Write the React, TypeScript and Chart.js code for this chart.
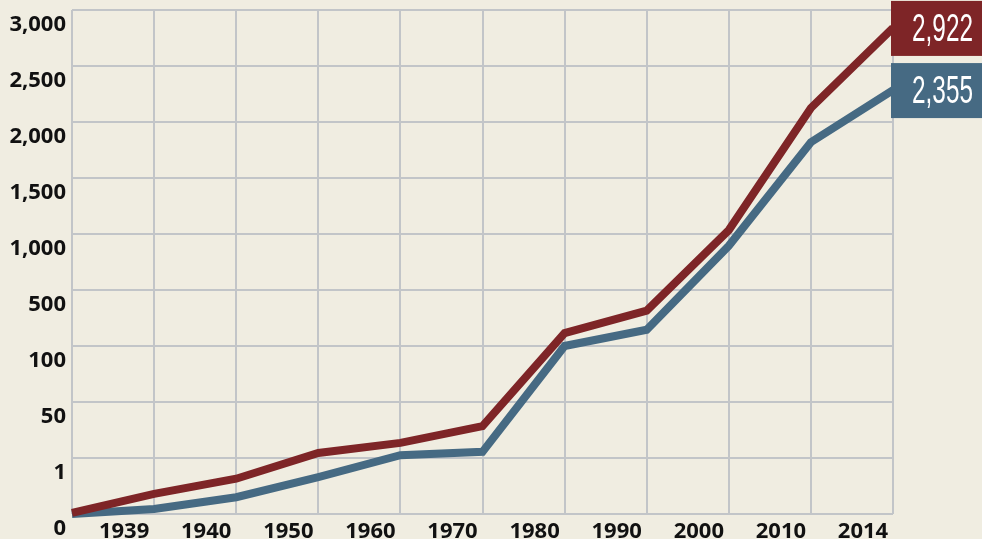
import React, { useEffect, useRef } from "react";
import { Chart, registerables } from "chart.js";

Chart.register(...registerables);

// Categories along the x axis (first point is unlabelled)
const categories = ["", "1939", "1940", "1950", "1960", "1970", "1980", "1990", "2000", "2010", "2014"];
// Y axis tick labels (evenly spaced, non-linear values)
const yTickLabels = ["0", "1", "50", "100", "500", "1,000", "1,500", "2,000", "2,500", "3,000"];
// Series positions, in axis-step units (one unit per gridline)
const redSeries = [0.02, 0.36, 0.63, 1.09, 1.27, 1.57, 3.23, 3.63, 5.07, 7.25, 8.68];
const blueSeries = [0.0, 0.09, 0.3, 0.66, 1.05, 1.11, 3.0, 3.29, 4.79, 6.64, 7.57];
// End-of-line value labels
const endLabels = ["2,922", "2,355"];

const RED = "#7E2527";
const BLUE = "#466A83";
const GRID = "#C2C5C8";
const BG = "#F0EDE1";
const TICK_FONT = { family: "'Noto Sans', sans-serif", size: 22, weight: "bold" as const };

const endLabelPlugin = {
  id: "endLabels",
  afterDatasetsDraw(chart: any) {
    const ctx = chart.ctx as CanvasRenderingContext2D;
    chart.data.datasets.forEach((ds: any, i: number) => {
      const meta = chart.getDatasetMeta(i);
      const pt = meta.data[meta.data.length - 1];
      if (!pt) return;
      const x = pt.x - 2;
      const y = pt.y;
      const text = endLabels[i];
      ctx.save();
      ctx.fillStyle = ds.borderColor;
      ctx.fillRect(x, y - 27, chart.width - x, 55);
      ctx.fillStyle = "#ffffff";
      ctx.font = '39px "Liberation Sans", sans-serif';
      const w = ctx.measureText(text).width;
      const sx = Math.min(1, 61 / w);
      ctx.translate(chart.width - 9, y + 13);
      ctx.scale(sx, 1);
      ctx.textAlign = "right";
      ctx.textBaseline = "alphabetic";
      ctx.fillText(text, 0, 0);
      ctx.restore();
    });
  },
};

export default function App() {
  const canvasRef = useRef<HTMLCanvasElement | null>(null);

  useEffect(() => {
    const canvas = canvasRef.current;
    if (!canvas) return;
    const chart = new Chart(canvas, {
      type: "line",
      data: {
        labels: categories,
        datasets: [
          {
            label: "Red",
            data: redSeries,
            borderColor: RED,
            backgroundColor: RED,
            borderWidth: 8,
            pointRadius: 0,
            tension: 0,
            borderJoinStyle: "miter",
            fill: false,
          },
          {
            label: "Blue",
            data: blueSeries,
            borderColor: BLUE,
            backgroundColor: BLUE,
            borderWidth: 8,
            pointRadius: 0,
            tension: 0,
            borderJoinStyle: "miter",
            fill: false,
          },
        ],
      },
      options: {
        responsive: false,
        animation: false,
        events: [],
        layout: { padding: { top: 10, right: 89, left: 0, bottom: 0 } },
        plugins: {
          legend: { display: false },
          tooltip: { enabled: false },
        },
        datasets: { line: { clip: false as any } },
        scales: {
          x: {
            type: "category",
            offset: false,
            grid: { color: GRID, lineWidth: 2, drawTicks: false },
            border: { display: false },
            ticks: {
              font: TICK_FONT,
              color: "#111111",
              padding: 5,
              labelOffset: -30,
              maxRotation: 0,
              autoSkip: false,
            },
            afterFit: (s: any) => {
              s.height = 25;
              s.paddingLeft = 0;
              s.paddingRight = 0;
            },
          },
          y: {
            type: "linear",
            min: 0,
            max: 9,
            grid: { color: GRID, lineWidth: 2, drawTicks: false },
            border: { display: false },
            ticks: {
              stepSize: 1,
              font: TICK_FONT,
              color: "#111111",
              padding: 6,
              labelOffset: 15,
              callback: (v: any) => yTickLabels[Math.round(Number(v))] ?? "",
            },
            afterFit: (s: any) => {
              s.width = 72;
              s.paddingTop = 0;
              s.paddingBottom = 0;
            },
          },
        },
      },
      plugins: [endLabelPlugin],
    });
    return () => chart.destroy();
  }, []);

  return (
    <div
      style={{
        position: "fixed",
        left: 0,
        top: 0,
        width: 982,
        height: 539,
        background: BG,
        overflow: "hidden",
      }}
    >
      <canvas ref={canvasRef} width={982} height={539} style={{ display: "block" }} />
    </div>
  );
}
